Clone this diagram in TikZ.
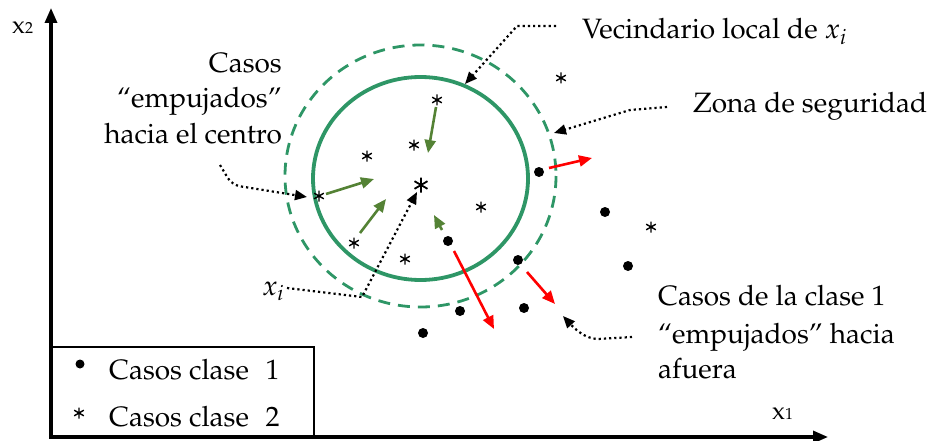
\documentclass[tikz,border=0pt]{standalone}
\usepackage[T1]{fontenc}
\usepackage{mathpazo}
\usetikzlibrary{arrows.meta}
\definecolor{cgreen}{RGB}{46,150,102}
\definecolor{olive}{RGB}{84,130,53}
\definecolor{cred}{RGB}{255,0,0}
\tikzset{
  lbl/.style={font=\fontsize{28}{35}\selectfont, inner sep=0pt},
  axlbl/.style={font=\fontsize{25}{28}\selectfont, inner sep=0pt},
  axis/.style={line width=3.2pt, -{Triangle[length=15pt,width=12pt]}},
  dotn/.style={circle, fill=black, inner sep=0pt, minimum size=10pt},
  astk/.pic={\draw[line width=1.4pt] (0,-5.5)--(0,5.5) (-4.8,-2.8)--(4.8,2.8) (-4.8,2.8)--(4.8,-2.8);},
  bigastk/.pic={\draw[line width=1.8pt] (0,-7.5)--(0,7.5) (-6.5,-3.8)--(6.5,3.8) (-6.5,3.8)--(6.5,-3.8);},
  garrow/.style={olive, line width=2.6pt, -{Triangle[length=13pt,width=11pt]}},
  rarrow/.style={cred, line width=2.6pt, -{Triangle[length=13pt,width=11pt]}},
  darrow/.style={black, line width=2.2pt, dash pattern=on 2.2pt off 3pt, -{Triangle[length=12pt,width=10pt]}},
}
\begin{document}
\begin{tikzpicture}[x=1pt,y=-1pt]
\useasboundingbox (0,0) rectangle (931,441);
% axes
\coordinate (o) at (51,438);
\coordinate (ytip) at (51,8);
\coordinate (xo) at (50,437);
\coordinate (xtip) at (828,437);
\draw[axis] (o) -- (ytip);
\draw[axis] (xo) -- (xtip);
\node[axlbl, anchor=base west] (x2) at (12,34) {x{\fontsize{16}{18}\selectfont 2}};
\node[axlbl, anchor=base west] (x1) at (772,419) {x{\fontsize{16}{18}\selectfont 1}};
% legend
\draw[line width=1.8pt] (50,347) rectangle (314,438);
\node[dotn, minimum size=9pt] (lg1) at (80,364) {};
\coordinate (lg2) at (79,413);
\pic at (lg2) {astk};
\node[lbl, anchor=base west] (lt1) at (109,379) {Casos clase\hspace{0.6em}1};
\node[lbl, anchor=base west] (lt2) at (109,426) {Casos clase\hspace{0.6em}2};
% circles
\draw[cgreen, line width=3.8pt] (420.5,178.5) ellipse [x radius=107.5, y radius=101.5];
\draw[cgreen, line width=2.8pt, dash pattern=on 12pt off 8pt] (420.5,176) ellipse [x radius=135.5, y radius=131];
% class 1 points
\node[dotn] (d1) at (539,172) {};
\node[dotn] (d2) at (605,212) {};
\node[dotn] (d3) at (628,266) {};
\node[dotn] (d4) at (448,241) {};
\node[dotn] (d5) at (518,260) {};
\node[dotn] (d6) at (460,311) {};
\node[dotn] (d7) at (524,308) {};
\node[dotn] (d8) at (423,333) {};
% class 2 points
\coordinate (s1) at (437,100);
\coordinate (s2) at (414,145);
\coordinate (s3) at (367,156);
\coordinate (s4) at (319,196);
\coordinate (s5) at (481,207);
\coordinate (s6) at (561,78);
\coordinate (s7) at (354,243);
\coordinate (s8) at (405,259);
\coordinate (s9) at (651,227);
\foreach \n in {s1,s2,s3,s4,s5,s6,s7,s8,s9}{
  \pic at (\n) {astk};
}
\coordinate (xi) at (421,185);
\pic at (xi) {bigastk};
% green arrows
\coordinate (g1a) at (436,107); \coordinate (g1b) at (428,153);
\coordinate (g2a) at (326,194); \coordinate (g2b) at (374,179);
\coordinate (g3a) at (360,233); \coordinate (g3b) at (386,199);
\coordinate (g4a) at (442,230); \coordinate (g4b) at (434,215);
\draw[garrow] (g1a) -- (g1b);
\draw[garrow] (g2a) -- (g2b);
\draw[garrow] (g3a) -- (g3b);
\draw[garrow] (g4a) -- (g4b);
% red arrows
\coordinate (r1a) at (549,168); \coordinate (r1b) at (592,158);
\coordinate (r2a) at (454,251); \coordinate (r2b) at (494,329);
\coordinate (r3a) at (527,272); \coordinate (r3b) at (555,304);
\draw[rarrow] (r1a) -- (r1b);
\draw[rarrow] (r2a) -- (r2b);
\draw[rarrow] (r3a) -- (r3b);
% labels
\node[lbl, anchor=base east] (c1) at (282,73) {Casos};
\node[lbl, anchor=base east] (c2) at (282,108) {``empujados''};
\node[lbl, anchor=base east] (c3) at (282,143) {hacia el centro};
\node[lbl, anchor=base west] (vec) at (582,39) {Vecindario local de $x_i$};
\node[lbl, anchor=base west] (zona) at (693,113) {Zona de seguridad};
\node[lbl, anchor=base west] (k1) at (658,305) {Casos de la clase 1};
\node[lbl, anchor=base west] (k2) at (658,343) {``empujados'' hacia};
\node[lbl, anchor=base west] (k3) at (658,378) {afuera};
\node[lbl, anchor=base west] (xil) at (262,295) {$x_i$};
% dotted pointers
\coordinate (pv0) at (556,26); \coordinate (pv1) at (517,26); \coordinate (pv2) at (465,84);
\draw[darrow] (pv0) -- (pv1) -- (pv2);
\coordinate (pz0) at (667,107); \coordinate (pz1) at (630,110); \coordinate (pz2) at (554,133);
\draw[darrow] (pz0) -- (pz1) -- (pz2);
\coordinate (pc0) at (220,165); \coordinate (pc1) at (232,185); \coordinate (pc2) at (307,197);
\draw[darrow, rounded corners=8pt] (pc0) -- (pc1) -- (pc2);
\coordinate (px0) at (287,288); \coordinate (px1) at (362,297); \coordinate (px2) at (417,192);
\draw[darrow] (px0) -- (px1) -- (px2);
\coordinate (pk0) at (632,337); \coordinate (pk1) at (598,339); \coordinate (pk2) at (563,316);
\draw[darrow] (pk0) -- (pk1) .. controls (585,339) and (574,328) .. (pk2);
\end{tikzpicture}
\end{document}
